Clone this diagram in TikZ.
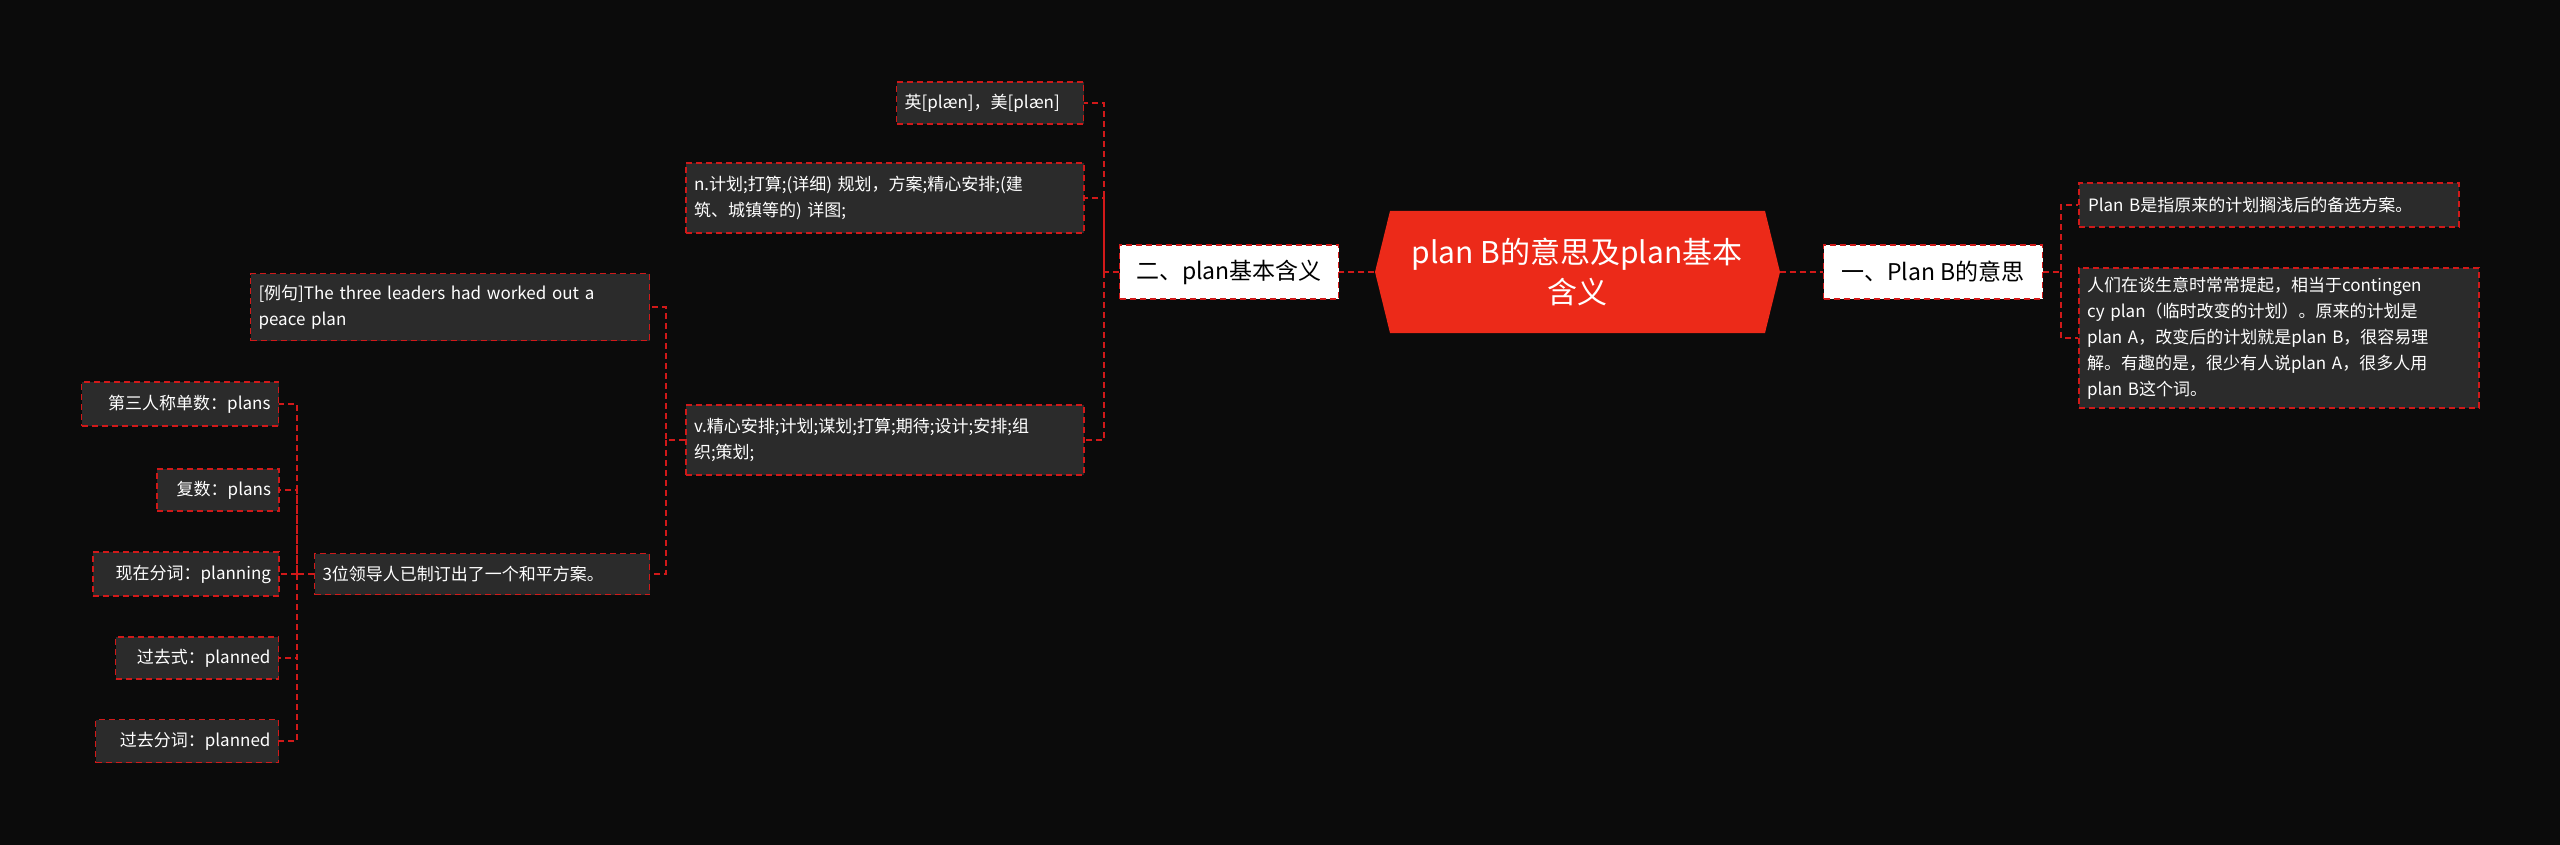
\documentclass[tikz,border=0pt]{standalone}
\usepackage{fontspec}
\setmainfont{Noto Sans CJK SC}
\begin{document}
\begin{tikzpicture}[x=1pt,y=-1pt,
  conn/.style={draw=red!80!black!90!white,line width=1.6pt,dash pattern=on 6pt off 4pt},
  leaf/.style={draw=red!80!black!90!white,line width=1.6pt,dash pattern=on 6pt off 4pt,fill=black!83,text=white,font=\fontsize{17}{26}\selectfont,align=left,inner sep=0pt,anchor=center},
  lvl/.style={draw=red!80!black!90!white,line width=1.6pt,dash pattern=on 6pt off 4pt,fill=white,text=black,font=\fontsize{23}{28}\selectfont,inner sep=0pt,anchor=center}]
\definecolor{bg}{HTML}{0B0B0B}
\definecolor{hex}{HTML}{EC2A19}
\fill[bg] (0,0) rectangle (2560,845);
\useasboundingbox (0,0) rectangle (2560,845);
% center
\fill[hex] (1375,272) -- (1390,211) -- (1765,211) -- (1780,272) -- (1765,333) -- (1390,333) -- cycle;
\node[minimum width=405pt,minimum height=122pt,inner sep=0pt,text=white,align=center,font=\fontsize{30}{40}\selectfont] (c) at (1577,272) {plan B的意思及plan基本\\含义};
% level 1
\node[lvl,minimum width=219pt,minimum height=54pt] (one) at (1933,272) {一、Plan B的意思};
\node[lvl,minimum width=219pt,minimum height=54pt] (two) at (1229,272) {二、plan基本含义};
% right leaves
\node[leaf,minimum width=380pt,minimum height=44pt,text width=362pt] (r1) at (2269,205) {Plan B是指原来的计划搁浅后的备选方案。};
\node[leaf,minimum width=400pt,minimum height=140pt,text width=384pt] (r2) at (2279,338) {人们在谈生意时常常提起，相当于contingen\\cy plan（临时改变的计划）。原来的计划是\\plan A，改变后的计划就是plan B，很容易理\\解。有趣的是，很少有人说plan A，很多人用\\plan B这个词。};
% two children
\node[leaf,minimum width=187pt,minimum height=42pt,text width=171pt] (a1) at (990,103) {英[plæn]，美[plæn]};
\node[leaf,minimum width=398pt,minimum height=70pt,text width=382pt] (a2) at (885,198) {n.计划;打算;(详细) 规划，方案;精心安排;(建\\筑、城镇等的) 详图;};
\node[leaf,minimum width=398pt,minimum height=70pt,text width=382pt] (a3) at (885,440) {v.精心安排;计划;谋划;打算;期待;设计;安排;组\\织;策划;};
% v children
\node[leaf,minimum width=399pt,minimum height=67pt,text width=383pt] (v1) at (450,307) {[例句]The three leaders had worked out a\\peace plan};
\node[leaf,minimum width=335pt,minimum height=41pt,text width=319pt] (v2) at (482,574) {3位领导人已制订出了一个和平方案。};
% 3位 children
\node[leaf,minimum width=197pt,minimum height=44pt,text width=181pt,align=right] (w1) at (180,404) {第三人称单数：plans};
\node[leaf,minimum width=122pt,minimum height=42pt,text width=106pt,align=right] (w2) at (218,490) {复数：plans};
\node[leaf,minimum width=186pt,minimum height=44pt,text width=170pt,align=right] (w3) at (186,574) {现在分词：planning};
\node[leaf,minimum width=163pt,minimum height=42pt,text width=147pt,align=right] (w4) at (197,658) {过去式：planned};
\node[leaf,minimum width=183pt,minimum height=43pt,text width=167pt,align=right] (w5) at (187,741) {过去分词：planned};
% connectors
\draw[conn] (c.east) -- (one.west);
\draw[conn] (c.west) -- (two.east);
\coordinate (t1) at (2061,272);
\draw[conn] (one.east) -- (t1) |- (r1.west);
\draw[conn] (t1) |- (r2.west);
\coordinate (t2) at (1104,272);
\draw[conn] (two.west) -- (t2) |- (a1.east);
\draw[conn] (t2) |- (a2.east);
\draw[conn] (t2) |- (a3.east);
\coordinate (t3) at (666,440);
\draw[conn] (a3.west) -- (t3) |- (v1.east);
\draw[conn] (t3) |- (v2.east);
\coordinate (t4) at (297,574);
\draw[conn] (v2.west) -- (t4) |- (w1.east);
\draw[conn] (t4) |- (w2.east);
\draw[conn] (t4) |- (w3.east);
\draw[conn] (t4) |- (w4.east);
\draw[conn] (t4) |- (w5.east);
\end{tikzpicture}
\end{document}
